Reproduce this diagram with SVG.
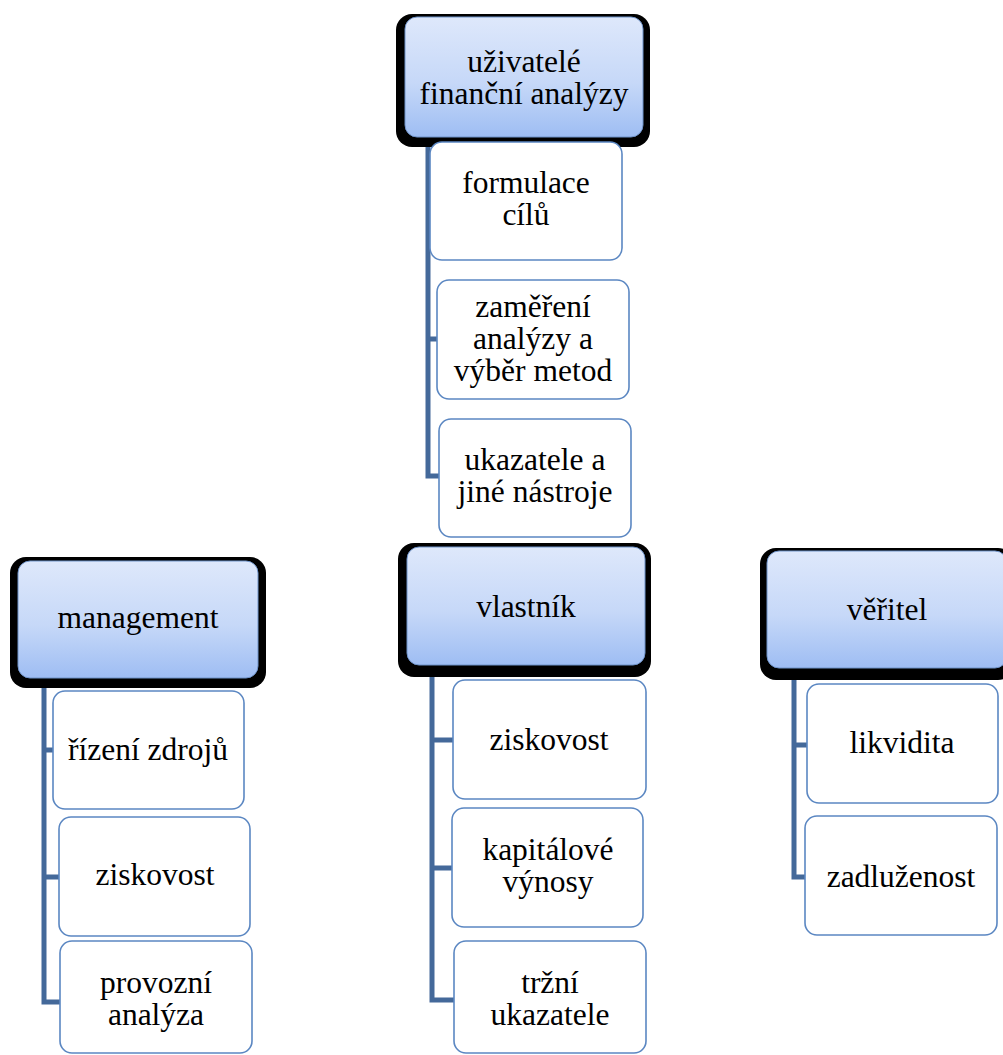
<svg xmlns="http://www.w3.org/2000/svg" width="1003" height="1055" viewBox="0 0 1003 1055">
<defs>
<linearGradient id="hg" x1="0" y1="0" x2="0" y2="1">
<stop offset="0" stop-color="#dee8fb"/>
<stop offset="0.55" stop-color="#c6d8f8"/>
<stop offset="1" stop-color="#9ebdf3"/>
</linearGradient>
<style>
.sh{fill:#000}
.hd{fill:url(#hg);stroke:#6f93c9;stroke-width:1}
.ch{fill:#fff;stroke:#5b87c2;stroke-width:1.6}
.t{font-family:"Liberation Serif","Times New Roman",serif;font-size:31.5px;fill:#000;text-anchor:middle}
.c{fill:none;stroke:#44699a;stroke-width:5;stroke-linejoin:miter}
</style>
</defs>
<rect width="1003" height="1055" fill="#fff"/>
<g id="connectors">
<path class="c" d="M428 137 V476 H440 M428 201 H431 M428 339 H438"/>
<path class="c" d="M44 678 V1002 H61 M44 750 H54 M44 877 H60"/>
<path class="c" d="M432 665 V1000 H455 M432 740 H454 M432 868 H453"/>
<path class="c" d="M794 668 V877 H806 M794 745 H808"/>
</g>
<g id="n-uzivatele">
<rect class="sh" x="396" y="14" width="254" height="133" rx="16"/>
<rect class="hd" x="405" y="17" width="238" height="120" rx="12"/>
<text class="t" x="524" y="72">uživatelé</text>
<text class="t" x="524" y="104">finanční analýzy</text>
</g>
<g id="n-formulace">
<rect class="ch" x="430" y="142" width="192" height="118" rx="12"/>
<text class="t" x="526" y="193">formulace</text>
<text class="t" x="526" y="225">cílů</text>
</g>
<g id="n-zamereni">
<rect class="ch" x="437" y="280" width="192" height="119" rx="12"/>
<text class="t" x="533" y="317">zaměření</text>
<text class="t" x="533" y="349">analýzy a</text>
<text class="t" x="533" y="381">výběr metod</text>
</g>
<g id="n-ukazatele">
<rect class="ch" x="439" y="419" width="192" height="118" rx="12"/>
<text class="t" x="535" y="470">ukazatele a</text>
<text class="t" x="535" y="502">jiné nástroje</text>
</g>
<g id="n-management">
<rect class="sh" x="10" y="557" width="256" height="131" rx="16"/>
<rect class="hd" x="18" y="561" width="240" height="117" rx="12"/>
<text class="t" x="138" y="628">management</text>
</g>
<g id="n-rizeni">
<rect class="ch" x="53" y="691" width="191" height="118" rx="12"/>
<text class="t" x="148" y="760">řízení zdrojů</text>
</g>
<g id="n-ziskovost-m">
<rect class="ch" x="59" y="817" width="191" height="119" rx="12"/>
<text class="t" x="155" y="885">ziskovost</text>
</g>
<g id="n-provozni">
<rect class="ch" x="60" y="941" width="192" height="112" rx="12"/>
<text class="t" x="156" y="993">provozní</text>
<text class="t" x="156" y="1025">analýza</text>
</g>
<g id="n-vlastnik">
<rect class="sh" x="398" y="543" width="253" height="134" rx="16"/>
<rect class="hd" x="407" y="547" width="238" height="118" rx="12"/>
<text class="t" x="526" y="617">vlastník</text>
</g>
<g id="n-ziskovost-v">
<rect class="ch" x="453" y="680" width="193" height="119" rx="12"/>
<text class="t" x="549" y="750">ziskovost</text>
</g>
<g id="n-kapitalove">
<rect class="ch" x="452" y="808" width="191" height="119" rx="12"/>
<text class="t" x="548" y="860">kapitálové</text>
<text class="t" x="548" y="892">výnosy</text>
</g>
<g id="n-trzni">
<rect class="ch" x="454" y="941" width="192" height="112" rx="12"/>
<text class="t" x="550" y="993">tržní</text>
<text class="t" x="550" y="1025">ukazatele</text>
</g>
<g id="n-veritel">
<rect class="sh" x="760" y="548" width="254" height="132" rx="16"/>
<rect class="hd" x="767" y="551" width="240" height="117" rx="12"/>
<text class="t" x="887" y="620">věřitel</text>
</g>
<g id="n-likvidita">
<rect class="ch" x="807" y="684" width="191" height="119" rx="12"/>
<text class="t" x="902" y="753">likvidita</text>
</g>
<g id="n-zadluzenost">
<rect class="ch" x="805" y="816" width="192" height="119" rx="12"/>
<text class="t" x="901" y="887">zadluženost</text>
</g>
</svg>
